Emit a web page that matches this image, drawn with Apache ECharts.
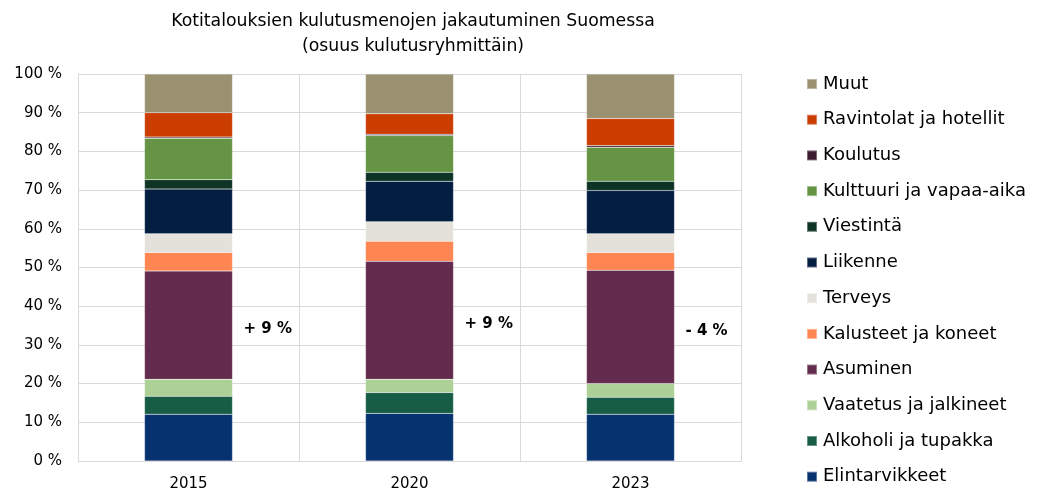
<!DOCTYPE html>
<html>
<head>
<meta charset="utf-8">
<script src="https://cdn.jsdelivr.net/npm/echarts@6/dist/echarts.min.js"></script>
<style>
  html, body { margin: 0; padding: 0; background: #fff; }
  #myChart { width: 1040px; height: 494px; }
</style>
</head>
<body>
<div id="myChart"></div>
<script>
// vuodet
const years = ["2015", "2020", "2023"];
// osuudet (%) alhaalta ylös
const elintarvikkeet = [12.1, 12.3, 12.1];
const alkoholi = [4.6, 5.4, 4.4];
const vaatetus = [4.4, 3.4, 3.5];
const asuminen = [28.0, 30.5, 29.3];
const kalusteet = [4.8, 5.2, 4.6];
const terveys = [4.8, 5.0, 4.8];
const liikenne = [11.6, 10.5, 11.2];
const viestinta = [2.4, 2.3, 2.4];
const kulttuuri = [10.7, 9.5, 8.8];
const koulutus = [0.3, 0.3, 0.4];
const ravintolat = [6.3, 5.3, 7.0];
const muut = [10.0, 10.3, 11.5];
// muutos-tekstit asumisen kohdalla
const changeLabels = ["+ 9 %", "+ 9 %", "- 4 %"];

const groups = [
  { name: "Elintarvikkeet", data: elintarvikkeet, color: "#063370" },
  { name: "Alkoholi ja tupakka", data: alkoholi, color: "#175c44" },
  { name: "Vaatetus ja jalkineet", data: vaatetus, color: "#acd095" },
  { name: "Asuminen", data: asuminen, color: "#632b4d" },
  { name: "Kalusteet ja koneet", data: kalusteet, color: "#ff8652" },
  { name: "Terveys", data: terveys, color: "#e3e1da" },
  { name: "Liikenne", data: liikenne, color: "#041e42" },
  { name: "Viestintä", data: viestinta, color: "#0e3426" },
  { name: "Kulttuuri ja vapaa-aika", data: kulttuuri, color: "#659544" },
  { name: "Koulutus", data: koulutus, color: "#3d1a2e" },
  { name: "Ravintolat ja hotellit", data: ravintolat, color: "#cc3d00" },
  { name: "Muut", data: muut, color: "#9a9170" }
];

const font = "DejaVu Sans, Verdana, sans-serif";
let myChart = echarts.init(document.getElementById("myChart"));

let option = {
  animation: false,
  textStyle: { fontFamily: font },
  title: {
    text: "Kotitalouksien kulutusmenojen jakautuminen Suomessa\n(osuus kulutusryhmittäin)",
    left: 408,
    top: 4,
    textAlign: "center",
    textStyle: {
      fontFamily: font,
      fontSize: 17.3,
      fontWeight: "normal",
      color: "#000",
      lineHeight: 25,
      align: "center"
    }
  },
  legend: {
    orient: "vertical",
    left: 806,
    top: 74,
    height: 420,
    padding: 0,
    itemWidth: 10,
    itemHeight: 10,
    itemGap: 15.7,
    icon: "rect",
    data: groups.map((g) => g.name).reverse(),
    textStyle: { fontFamily: font, fontSize: 18, color: "#000", lineHeight: 20, padding: [0, 0, 0, 1] }
  },
  grid: { left: 78, right: 299, top: 74, bottom: 33 },
  xAxis: {
    type: "category",
    data: years,
    axisLine: { lineStyle: { color: "#d9d9d9" } },
    axisTick: { show: false },
    splitLine: { show: true, lineStyle: { color: "#d9d9d9" } },
    axisLabel: { color: "#000", fontSize: 15, fontFamily: font, margin: 16 }
  },
  yAxis: {
    type: "value",
    min: 0,
    max: 100,
    interval: 10,
    axisLine: { show: true, lineStyle: { color: "#d9d9d9" } },
    splitLine: { lineStyle: { color: "#d9d9d9" } },
    axisLabel: { formatter: "{value} %", color: "#000", fontSize: 15, fontFamily: font, margin: 16 }
  },
  series: groups.map((g) => ({
    name: g.name,
    type: "bar",
    stack: "total",
    barWidth: 88,
    data: g.data,
    itemStyle: { color: g.color, borderColor: "rgba(255,255,255,0.35)", borderWidth: 0.5 },
    label: g.name === "Asuminen" ? {
      show: true,
      position: "right",
      distance: 11,
      offset: [0, 4],
      fontFamily: font,
      fontSize: 15,
      fontWeight: "bold",
      color: "#000",
      formatter: (p) => changeLabels[p.dataIndex]
    } : { show: false }
  }))
};

myChart.setOption(option);
</script>
</body>
</html>
